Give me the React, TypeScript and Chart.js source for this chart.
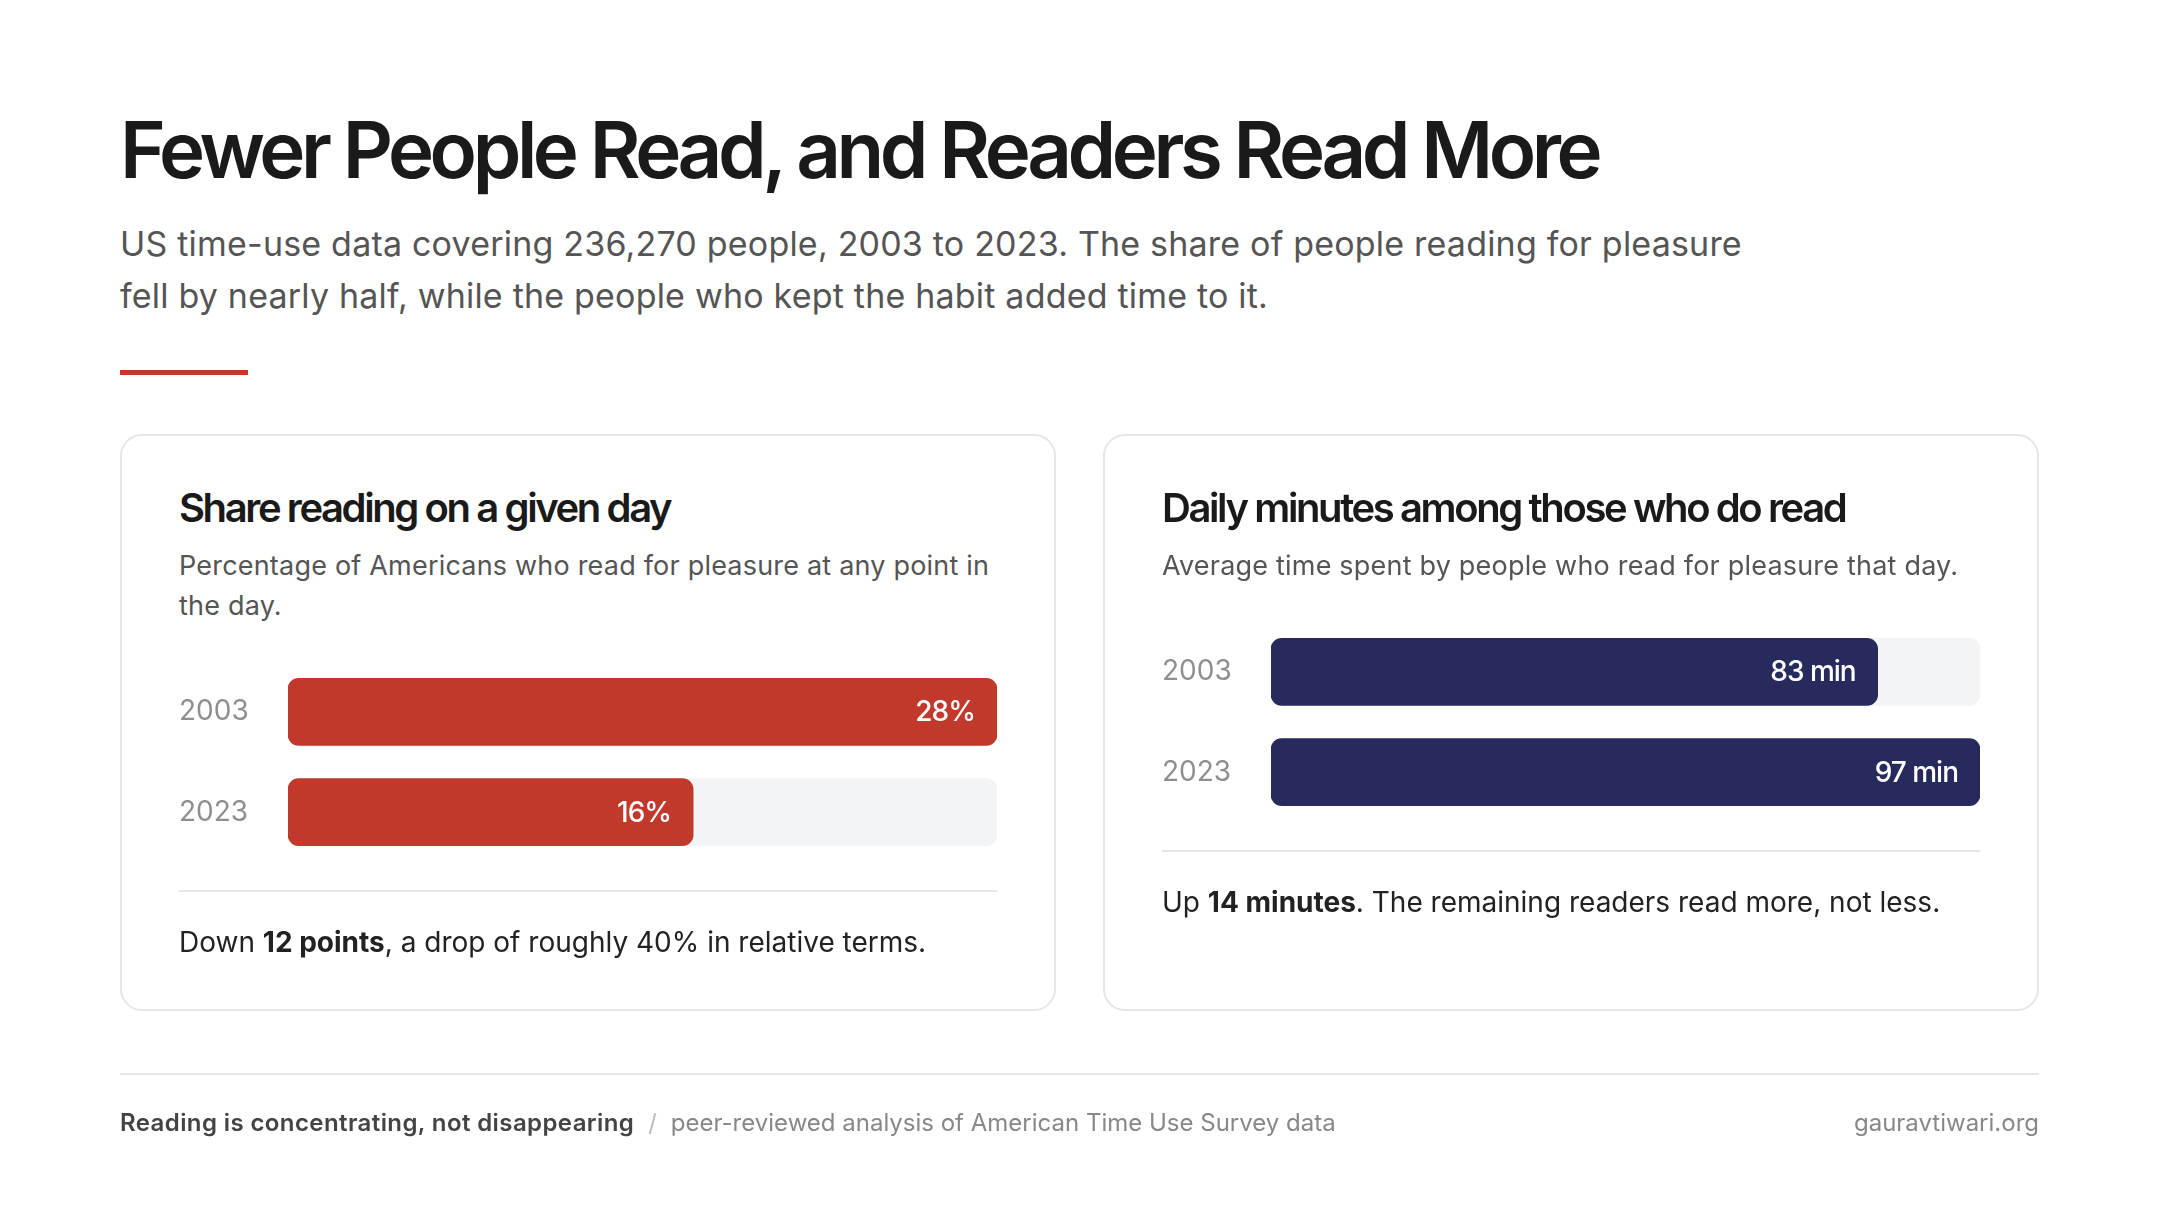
import { useEffect, useRef } from "react";
import { Chart, registerables } from "chart.js";

Chart.register(...registerables);

const years = ["2003", "2023"];
const shareValues = [28, 16];
const minuteValues = [83, 97];

const FONT = "Inter, 'Noto Sans', sans-serif";

type BarsProps = {
  values: number[];
  color: string;
  suffix: string;
  height: number;
};

function Bars({ values, color, suffix, height }: BarsProps) {
  const ref = useRef<HTMLCanvasElement | null>(null);

  useEffect(() => {
    if (!ref.current) return;
    const top = Math.max(...values);

    // value text drawn inside the end of each bar
    const valueLabels = {
      id: "valueLabels",
      afterDatasetsDraw(chart: Chart) {
        const ctx = chart.ctx;
        const meta = chart.getDatasetMeta(1);
        ctx.save();
        ctx.fillStyle = "#ffffff";
        ctx.font = `500 28px ${FONT}`;
        ctx.textAlign = "right";
        ctx.textBaseline = "middle";
        (ctx as any).letterSpacing = "-1px";
        meta.data.forEach((el: any, i: number) => {
          ctx.fillText(`${values[i]}${suffix}`, el.x - 22, el.y + 1);
        });
        ctx.restore();
      },
    };

    const chart = new Chart(ref.current, {
      type: "bar",
      data: {
        labels: years,
        datasets: [
          {
            data: years.map(() => top),
            backgroundColor: "#f3f4f6",
            order: 2,
            grouped: false,
            barThickness: 67,
            borderRadius: 11,
            borderSkipped: false,
          },
          {
            data: values,
            backgroundColor: color,
            order: 1,
            grouped: false,
            barThickness: 67,
            borderRadius: 11,
            borderSkipped: false,
          },
        ],
      },
      options: {
        indexAxis: "y",
        responsive: false,
        animation: false,
        layout: { padding: 0 },
        plugins: { legend: { display: false }, tooltip: { enabled: false } },
        scales: {
          x: { display: false, min: 0, max: top },
          y: {
            grid: { display: false },
            border: { display: false },
            ticks: {
              color: "#8f8f8f",
              font: { size: 28, family: FONT },
              crossAlign: "far",
              padding: 0,
            },
            afterFit(scale: any) {
              scale.width = 109;
            },
          },
        },
      },
      plugins: [valueLabels],
    });

    return () => {
      chart.destroy();
    };
  }, [values, color, suffix]);

  return <canvas ref={ref} width={818} height={height} style={{ display: "block" }} />;
}

type CardProps = {
  title: string;
  desc: React.ReactNode;
  values: number[];
  color: string;
  suffix: string;
  note: React.ReactNode;
};

function Card({ title, desc, values, color, suffix, note }: CardProps) {
  return (
    <div
      style={{
        flex: "0 0 936px",
        boxSizing: "border-box",
        border: "2px solid #e6e6e6",
        borderRadius: 22,
        padding: "46px 57px 47px 57px",
        background: "#fff",
      }}
    >
      <div
        style={{
          fontSize: 40,
          lineHeight: "52px",
          fontWeight: 600,
          letterSpacing: "-0.06em",
          color: "#1a1a1a",
        }}
      >
        {title}
      </div>
      <div style={{ marginTop: 12, fontSize: 27, lineHeight: "40px", color: "#555", letterSpacing: "0.2px" }}>
        {desc}
      </div>
      <div style={{ marginTop: 19 }}>
        <Bars values={values} color={color} suffix={suffix} height={234} />
      </div>
      <div style={{ marginTop: 11, height: 2, background: "#e6e6e6" }} />
      <div style={{ marginTop: 30, fontSize: 28, lineHeight: "40px", color: "#222" }}>{note}</div>
    </div>
  );
}

export default function App() {
  return (
    <div
      style={{
        position: "absolute",
        left: 0,
        top: 0,
        width: 2160,
        height: 1224,
        background: "#fff",
        fontFamily: FONT,
        boxSizing: "border-box",
        padding: "0 121px 0 120px",
      }}
    >
      <div
        style={{
          marginTop: 105,
          fontSize: 78,
          lineHeight: "90px",
          fontWeight: 600,
          letterSpacing: "-0.057em",
          color: "#1a1a1a",
        }}
      >
        Fewer People Read, and Readers Read More
      </div>
      <div style={{ marginTop: 23, fontSize: 34, lineHeight: "52px", color: "#555", letterSpacing: "0.2px" }}>
        US time-use data covering 236,270 people, 2003 to 2023. The share of people reading for pleasure
        <br />
        fell by nearly half, while the people who kept the habit added time to it.
      </div>
      <div style={{ marginTop: 48, width: 128, height: 5, background: "#c0392b" }} />
      <div style={{ marginTop: 59, display: "flex", justifyContent: "space-between", alignItems: "stretch" }}>
        <Card
          title="Share reading on a given day"
          desc={
            <>
              Percentage of Americans who read for pleasure at any point in
              <br />
              the day.
            </>
          }
          values={shareValues}
          color="#c0392b"
          suffix="%"
          note={
            <>
              Down <b>12 points</b>, a drop of roughly 40% in relative terms.
            </>
          }
        />
        <Card
          title="Daily minutes among those who do read"
          desc="Average time spent by people who read for pleasure that day."
          values={minuteValues}
          color="#262a5c"
          suffix=" min"
          note={
            <>
              Up <b>14 minutes</b>. The remaining readers read more, not less.
            </>
          }
        />
      </div>
      <div style={{ marginTop: 62, height: 2, background: "#e6e6e6" }} />
      <div
        style={{
          marginTop: 32,
          display: "flex",
          justifyContent: "space-between",
          fontSize: 24,
          lineHeight: "32px",
        }}
      >
        <div>
          <span style={{ color: "#444", fontWeight: 600, letterSpacing: "0.4px" }}>
            Reading is concentrating, not disappearing
          </span>
          <span style={{ color: "#bbb", margin: "0 14px" }}>/</span>
          <span style={{ color: "#888" }}>peer-reviewed analysis of American Time Use Survey data</span>
        </div>
        <div style={{ color: "#888" }}>gauravtiwari.org</div>
      </div>
    </div>
  );
}
